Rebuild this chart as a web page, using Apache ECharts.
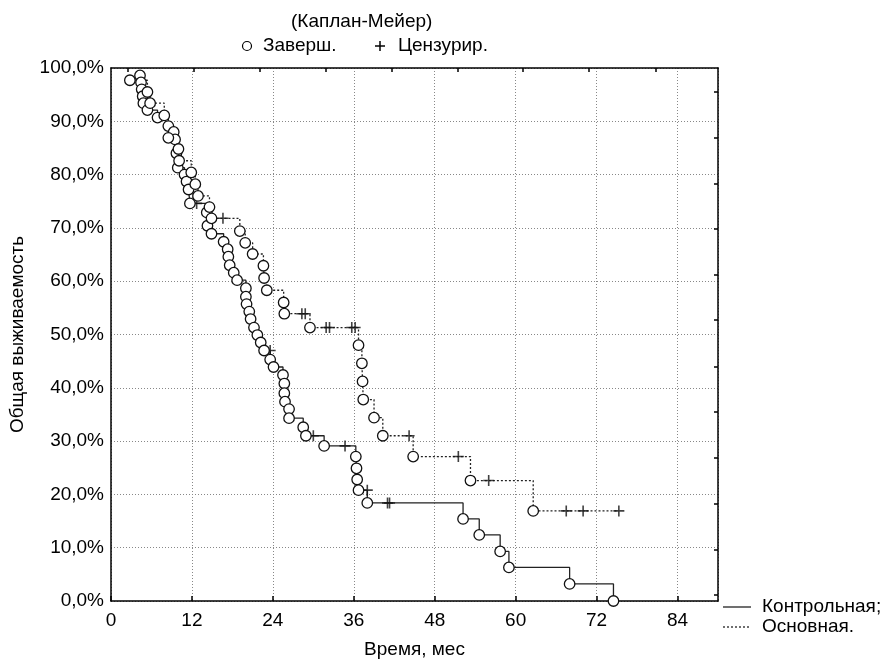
<!DOCTYPE html>
<html>
<head>
<meta charset="utf-8">
<script src="https://cdn.jsdelivr.net/npm/echarts@6/dist/echarts.min.js"></script>
<style>
html, body { margin: 0; padding: 0; background: #fff; }
#chart { width: 883px; height: 660px; }
</style>
</head>
<body>
<div id="chart"></div>
<script>
// Контрольная: завершённые (время, выживаемость %)
var ctrlEvents = [
	[4.3, 98.6], [4.45, 97.3], [4.55, 96.0], [4.7, 94.7], [4.8, 93.4], [5.4, 92.1], [6.9, 90.7],
	[8.5, 89.1], [9.3, 88.0], [9.5, 86.6], [9.7, 84.0], [9.9, 81.3], [10.9, 80.0], [11.2, 78.7],
	[11.5, 77.2], [11.7, 74.6], [14.2, 72.9], [14.3, 70.4], [14.9, 68.9], [16.7, 67.4], [17.3, 66.0],
	[17.4, 64.6], [17.6, 63.0], [18.2, 61.6], [18.7, 60.2], [20.0, 58.7], [20.0, 57.1], [20.1, 55.7],
	[20.5, 54.3], [20.7, 52.9], [21.2, 51.3], [21.7, 49.9], [22.2, 48.5], [22.7, 47.0], [23.6, 45.3],
	[24.1, 43.9], [25.5, 42.4], [25.7, 40.8], [25.7, 39.0], [25.8, 37.4], [26.4, 36.0], [26.4, 34.3],
	[28.5, 32.6], [28.9, 31.0], [31.6, 29.1], [36.3, 27.1], [36.4, 24.9], [36.5, 22.8], [36.7, 20.8],
	[38.0, 18.4], [52.2, 15.4], [54.6, 12.4], [57.7, 9.3], [59.0, 6.3], [68.0, 3.2], [74.5, 0]
];
// Контрольная: цензурированные
var ctrlCensored = [
	[12.7, 74.6], [23.6, 47.0], [30.0, 31.0], [34.7, 29.1], [38.0, 20.8], [41.0, 18.4], [41.3, 18.4]
];
// Основная: завершённые
var mainEvents = [
	[2.8, 97.7], [5.4, 95.5], [5.8, 93.4], [7.9, 91.1], [8.5, 86.9], [10.0, 84.8], [10.1, 82.6],
	[11.9, 80.4], [12.5, 78.2], [12.9, 76.0], [14.6, 73.9], [14.9, 71.8], [19.1, 69.4], [19.9, 67.2],
	[21.0, 65.1], [22.6, 62.9], [22.7, 60.6], [23.1, 58.3], [25.6, 56.0], [25.7, 53.9], [29.5, 51.3],
	[36.7, 48.0], [37.2, 44.6], [37.3, 41.2], [37.4, 37.8], [39.0, 34.4], [40.3, 31.0], [44.8, 27.1],
	[53.3, 22.6], [62.6, 16.9]
];
// Основная: цензурированные
var mainCensored = [
	[16.6, 71.8], [28.3, 53.9], [28.8, 53.9], [31.9, 51.3], [32.4, 51.3], [35.7, 51.3], [36.2, 51.3],
	[44.2, 31.0], [51.5, 27.1], [56.0, 22.6], [67.5, 16.9], [70.0, 16.9], [75.3, 16.9]
];
// засечки на верхней и правой осях
var topTicks = [2.5, 12.3, 22.0, 31.8, 41.6, 51.4, 61.1, 70.9, 80.7];
var rightTicks = [1.1, 9.6, 18.2, 26.8, 35.5, 44.0, 52.7, 61.2, 69.8, 78.3, 86.9, 95.5];

var FONT = 'Liberation Sans';
var FS = 19;
var plusPath = 'path://M0,5L10,5M5,0L5,10';

//ступенчатая кривая: события + цензуры по времени
function mergeCurve(ev, cens){
	var arr = ev.concat(cens).slice();
	arr.sort(function(a, b){
		if(a[0] !== b[0]) return a[0] - b[0];
		return b[1] - a[1];
	});
	return arr;
}

var chart = echarts.init(document.getElementById('chart'));
var txt = { color : '#000', fontFamily : FONT, fontSize : FS };
var gtxt = { fill : '#000', fontFamily : FONT, fontSize : FS, verticalAlign : 'middle' };

var option = {
	backgroundColor : '#fff',
	animation : false,
	title : {
		text : '(Каплан-Мейер)',
		left : 286,
		top : 7,
		textStyle : { color : '#000', fontFamily : FONT, fontSize : FS, fontWeight : 'normal' }
	},
	//легенды
	graphic : [
		{ type : 'circle', shape : { cx : 247, cy : 46, r : 4.5 }, style : { fill : '#fff', stroke : '#000', lineWidth : 1.2 } },
		{ type : 'text', x : 263, y : 46, style : echarts.util.extend({ text : 'Заверш.' }, gtxt) },
		{ type : 'line', shape : { x1 : 375, y1 : 46, x2 : 385, y2 : 46 }, style : { stroke : '#000', lineWidth : 1.5 } },
		{ type : 'line', shape : { x1 : 380, y1 : 41, x2 : 380, y2 : 51 }, style : { stroke : '#000', lineWidth : 1.5 } },
		{ type : 'text', x : 398, y : 46, style : echarts.util.extend({ text : 'Цензурир.' }, gtxt) },
		{ type : 'line', shape : { x1 : 723, y1 : 607, x2 : 751, y2 : 607 }, style : { stroke : '#222', lineWidth : 1.3 } },
		{ type : 'text', x : 762, y : 607, style : echarts.util.extend({ text : 'Контрольная;' }, gtxt) },
		{ type : 'line', shape : { x1 : 723, y1 : 627, x2 : 751, y2 : 627 }, style : { stroke : '#222', lineWidth : 1.3, lineDash : [2, 2] } },
		{ type : 'text', x : 762, y : 627, style : echarts.util.extend({ text : 'Основная.' }, gtxt) }
	],
	grid : {
		left : 111,
		right : 165,
		top : 68,
		bottom : 59,
		outerBoundsMode : 'none'
	},
	xAxis : [{
		type : 'value',
		min : 0,
		max : 90,
		interval : 12,
		name : 'Время, мес',
		nameLocation : 'middle',
		nameGap : 39,
		nameTextStyle : txt,
		axisLine : { onZero : false, lineStyle : { color : '#000', width : 1.5 } },
		axisTick : { inside : true, length : 5, lineStyle : { color : '#000', width : 1.5 } },
		axisLabel : {
			color : '#000', fontFamily : FONT, fontSize : FS, margin : 10,
			showMaxLabel : false
		},
		splitLine : { show : true, lineStyle : { color : '#888', type : [1, 2], width : 1 } }
	}, {
		type : 'value',
		position : 'top',
		min : 0,
		max : 90,
		axisLine : { onZero : false, lineStyle : { color : '#000', width : 1.5 } },
		axisTick : { inside : true, length : 4, customValues : topTicks, lineStyle : { color : '#000', width : 1.5 } },
		axisLabel : { show : false },
		splitLine : { show : false }
	}],
	yAxis : [{
		type : 'value',
		min : 0,
		max : 100,
		interval : 10,
		name : 'Общая выживаемость',
		nameLocation : 'middle',
		nameGap : 84,
		nameTextStyle : txt,
		axisLine : { show : true, onZero : false, lineStyle : { color : '#000', width : 1.5 } },
		axisTick : { show : false },
		axisLabel : {
			color : '#000', fontFamily : FONT, fontSize : FS, margin : 7,
			formatter : function(v){
				return v.toFixed(1).replace('.', ',') + '%';
			}
		},
		splitLine : { show : true, lineStyle : { color : '#888', type : [1, 2], width : 1 } }
	}, {
		type : 'value',
		position : 'right',
		min : 0,
		max : 100,
		axisLine : { show : true, onZero : false, lineStyle : { color : '#000', width : 1.5 } },
		axisTick : { show : true, inside : true, length : 4, customValues : rightTicks, lineStyle : { color : '#000', width : 1.5 } },
		axisLabel : { show : false },
		splitLine : { show : false }
	}],
	series : [{
		name : 'Контрольная;',
		type : 'line',
		step : 'end',
		symbol : 'none',
		data : mergeCurve(ctrlEvents, ctrlCensored),
		lineStyle : { color : '#222', width : 1.3 },
		z : 2
	}, {
		name : 'Основная.',
		type : 'line',
		step : 'end',
		symbol : 'none',
		data : mergeCurve(mainEvents, mainCensored),
		lineStyle : { color : '#222', width : 1.3, type : [2, 2] },
		z : 2
	}, {
		name : 'Цензурир.',
		type : 'scatter',
		symbol : plusPath,
		symbolSize : 11,
		data : ctrlCensored.concat(mainCensored),
		itemStyle : { color : 'none', borderColor : '#111', borderWidth : 1.6 },
		z : 3
	}, {
		name : 'Заверш.',
		type : 'scatter',
		symbol : 'circle',
		symbolSize : 10.5,
		data : ctrlEvents.concat(mainEvents),
		itemStyle : { color : '#fff', borderColor : '#111', borderWidth : 1.3, opacity : 1 },
		z : 4
	}]
};
chart.setOption(option);
</script>
</body>
</html>
